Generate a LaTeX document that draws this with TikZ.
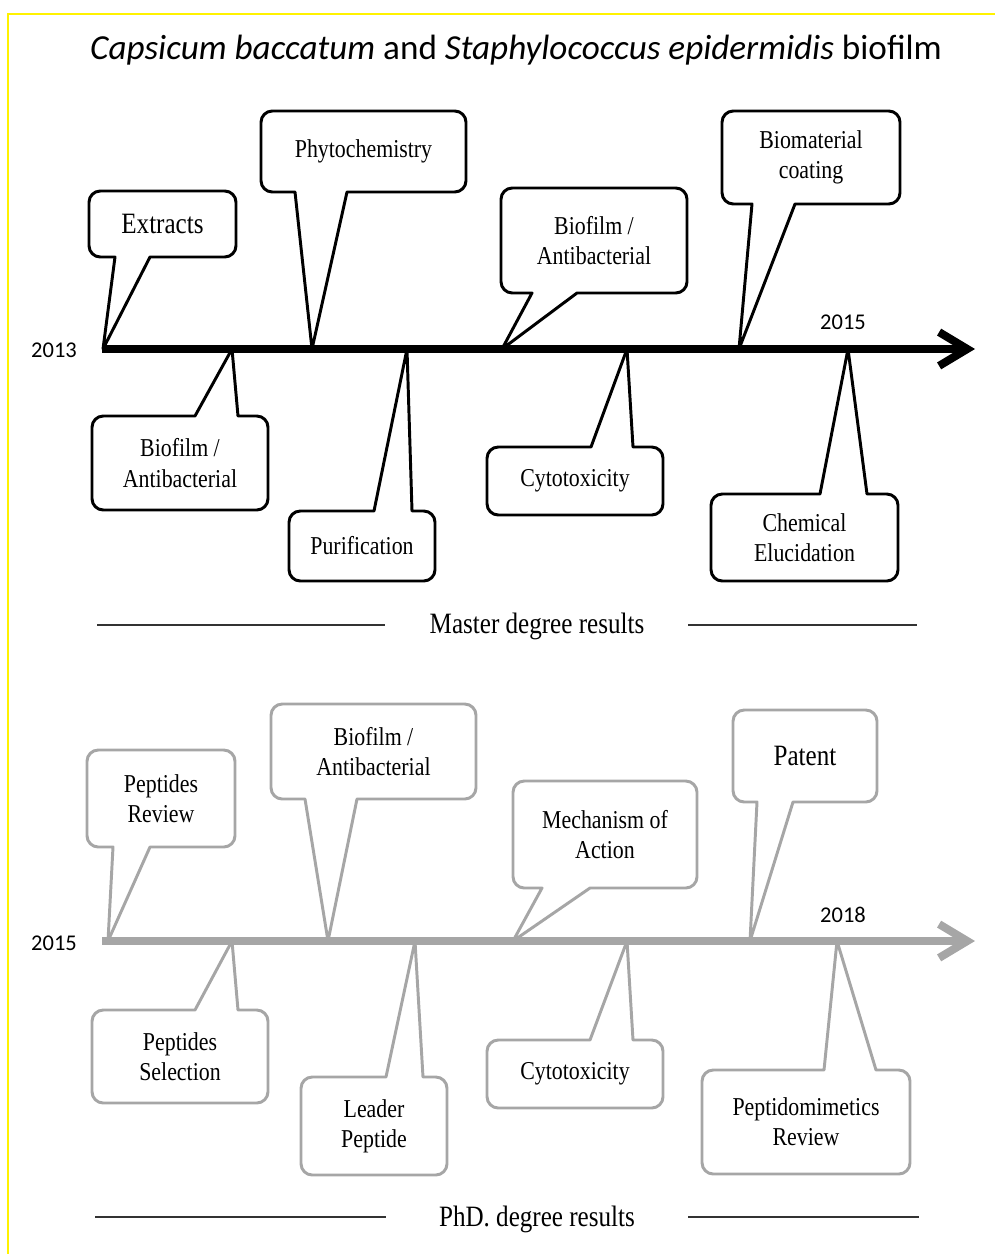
\documentclass[tikz,border=0pt]{standalone}
\usepackage{fontspec}
\setmainfont{Liberation Serif}[FakeStretch=0.85]
\newfontfamily\calfont{Carlito}
\usetikzlibrary{arrows.meta}
\newcommand\bigsize{\fontsize{21}{25}\selectfont}
\tikzset{
  bubble/.style={line width=2.1pt, line join=round, fill=white},
  boxtext/.style={align=center, inner sep=0pt, font=\fontsize{18.3}{21.5}\selectfont},
  yeartext/.style={inner sep=0pt, anchor=base, font=\calfont\fontsize{16}{19}\selectfont},
  sectext/.style={inner sep=0pt, font=\fontsize{21}{25}\selectfont},
  axis/.style={line width=5.7pt, -{Straight Barb[length=20pt,width=24pt]}},
  sepline/.style={line width=1.4pt, black!80},
}
\begin{document}
\begin{tikzpicture}[x=0.25mm, y=-0.25mm]
\useasboundingbox (0,0) rectangle (995,1254);
\draw[yellow, line width=1.3pt] (8,1260) -- (8,14) -- (1000,14);
\node[inner sep=0pt, anchor=base, font=\calfont\fontsize{25}{30}\selectfont] (title) at (516,60) {\textit{Capsicum baccatum} and \textit{Staphylococcus epidermidis} biofilm};

% master degree timeline
\foreach \xa/\ya/\xb/\yb/\ba/\bb/\tx/\nm/\txt in {89/191/236/257/115/150/103/extracts/{\bigsize Extracts}, 261/111/466/192/295/347/312/phyto/Phytochemistry, 501/188/687/293/532/577/502/biofilmA/{Biofilm /\\Antibacterial}, 722/111/900/204/752/795/739/biomat/{Biomaterial\\coating}} {
  \draw[bubble, draw=black] (\ba,\yb) [rounded corners=8pt] -- (\xa,\yb) -- (\xa,\ya) -- (\xb,\ya) -- (\xb,\yb) [sharp corners] -- (\bb,\yb) -- (\tx,349) -- cycle;
  \node[boxtext] (\nm) at ({(\xa+\xb)/2},{(\ya+\yb)/2}) {\txt};
}
\foreach \xa/\ya/\xb/\yb/\ba/\bb/\tx/\nm/\txt in {92/416/268/510/195/238/232/biofilmB/{Biofilm /\\Antibacterial}, 289/511/435/581/374/412/407/purif/Purification, 487/447/663/515/591/633/627/cytoA/Cytotoxicity, 711/494/898/581/820/867/848/chemel/{Chemical\\Elucidation}} {
  \draw[bubble, draw=black] (\ba,\ya) [rounded corners=8pt] -- (\xa,\ya) -- (\xa,\yb) -- (\xb,\yb) -- (\xb,\ya) [sharp corners] -- (\bb,\ya) -- (\tx,349) -- cycle;
  \node[boxtext] (\nm) at ({(\xa+\xb)/2},{(\ya+\yb)/2}) {\txt};
}
\coordinate (mscstart) at (102,349);
\coordinate (mscend) at (975,349);
\draw[axis, black] (mscstart) -- (mscend);
\node[yeartext] (y2013) at (54,357) {2013};
\node[yeartext] (y2015a) at (843,329) {2015};

\node[sectext] (mscres) at (537,626) {Master degree results};
\draw[sepline] (97,625) -- (385,625);
\draw[sepline] (688,625) -- (917,625);

% phd timeline
\foreach \xa/\ya/\xb/\yb/\ba/\bb/\tx/\nm/\txt in {87/750/235/847/113/150/108/pepreview/{Peptides\\Review}, 271/704/476/799/305/357/328/biofilmC/{Biofilm /\\Antibacterial}, 513/781/697/888/542/590/513/mechanism/{Mechanism of\\Action}, 733/710/877/802/757/793/750/patent/{\bigsize Patent}} {
  \draw[bubble, draw=black!35] (\ba,\yb) [rounded corners=8pt] -- (\xa,\yb) -- (\xa,\ya) -- (\xb,\ya) -- (\xb,\yb) [sharp corners] -- (\bb,\yb) -- (\tx,941) -- cycle;
  \node[boxtext] (\nm) at ({(\xa+\xb)/2},{(\ya+\yb)/2}) {\txt};
}
\foreach \xa/\ya/\xb/\yb/\ba/\bb/\tx/\nm/\txt in {92/1010/268/1103/195/238/232/pepsel/{Peptides\\Selection}, 301/1077/447/1175/386/423/415/leader/{Leader\\Peptide}, 487/1040/663/1108/590/633/627/cytoB/Cytotoxicity, 702/1070/910/1174/824/876/837/peptidomim/{Peptidomimetics\\Review}} {
  \draw[bubble, draw=black!35] (\ba,\ya) [rounded corners=8pt] -- (\xa,\ya) -- (\xa,\yb) -- (\xb,\yb) -- (\xb,\ya) [sharp corners] -- (\bb,\ya) -- (\tx,941) -- cycle;
  \node[boxtext] (\nm) at ({(\xa+\xb)/2},{(\ya+\yb)/2}) {\txt};
}
\coordinate (phdstart) at (102,941);
\coordinate (phdend) at (975,941);
\draw[axis, black!35] (phdstart) -- (phdend);
\node[yeartext] (y2015b) at (54,950) {2015};
\node[yeartext] (y2018) at (843,922) {2018};

\node[sectext] (phdres) at (537,1219) {PhD. degree results};
\draw[sepline] (95,1217) -- (386,1217);
\draw[sepline] (688,1217) -- (919,1217);
\end{tikzpicture}
\end{document}
